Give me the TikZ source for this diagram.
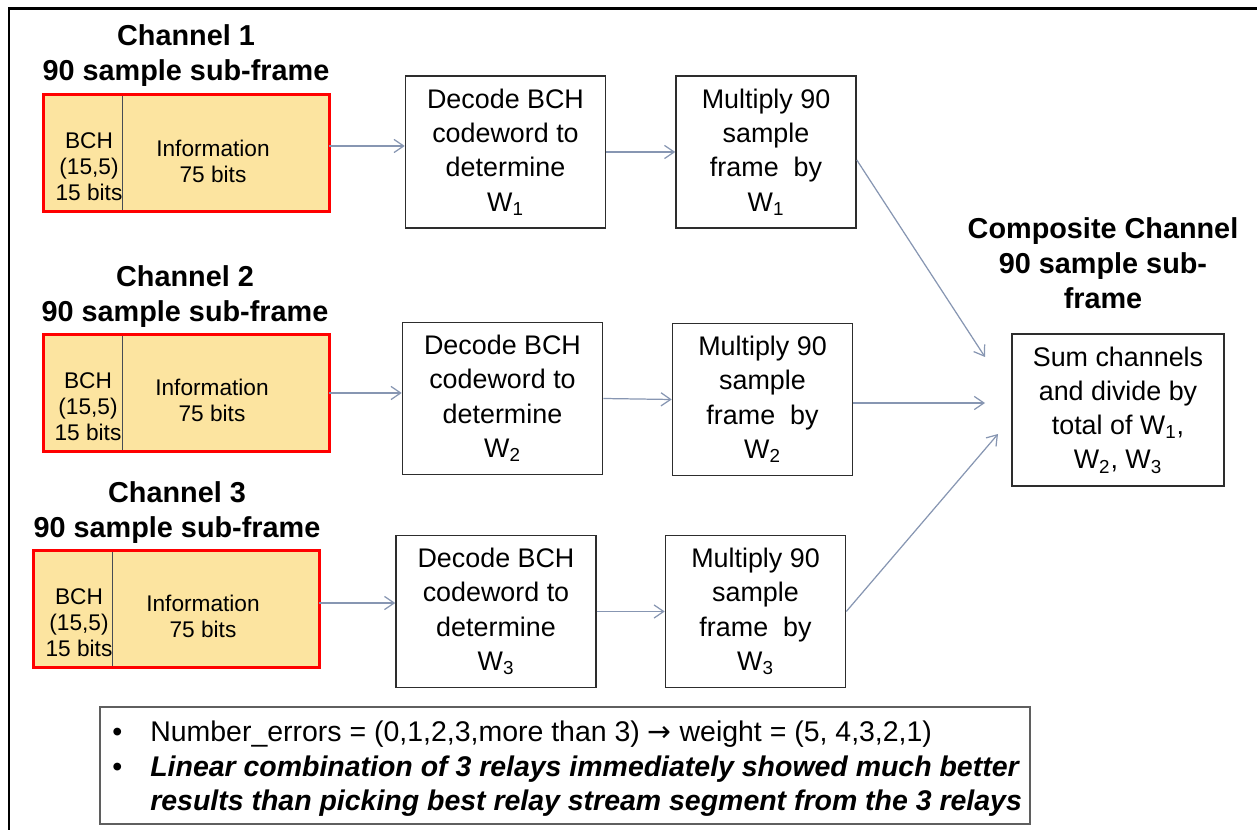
\documentclass[tikz,border=0pt]{standalone}
\usepackage{fontspec}
\setmainfont{Liberation Sans}
\newfontfamily\symfont{DejaVu Sans}
\usetikzlibrary{positioning,arrows.meta}
\definecolor{framefill}{RGB}{252,228,160}
\definecolor{boxgray}{RGB}{45,45,45}
\definecolor{divgray}{RGB}{70,75,85}
\definecolor{notegray}{RGB}{95,95,95}
\definecolor{arrowgray}{RGB}{135,150,178}
\newcommand{\procfont}{\fontsize{15.3}{19.5}\selectfont}
\newcommand{\chfont}{\fontsize{16.4}{19.9}\selectfont\bfseries}
\newcommand{\fieldfont}{\fontsize{12.9}{14.8}\selectfont}
\newcommand{\notefont}{\fontsize{16.2}{19.6}\selectfont}

\begin{document}
\begin{tikzpicture}[x=0.02cm, y=-0.02cm,
  chtitle/.style={align=center, font=\chfont, inner sep=0pt},
  field/.style={draw=divgray, line width=0.45pt, fill=framefill, minimum height=2.34cm, inner sep=0pt},
  fieldtext/.style={align=center, font=\fieldfont, inner sep=0pt},
  redframe/.style={draw=red, line width=1.7pt},
  proc/.style={draw=boxgray, line width=0.9pt, align=center, font=\procfont, minimum height=3.04cm, inner sep=0pt},
  link/.style={draw=arrowgray, line width=0.7pt, -{Straight Barb[length=5.5pt,width=7.5pt]}}
]
\useasboundingbox (0,0) rectangle (1257,830);
\draw[line width=1.7pt] (9,830) -- (9,8.5) -- (1257,8.5);

\node[chtitle] (c1) at (186,56) {Channel 1\\90 sample sub-frame};
\node[field, minimum width=1.56cm] (b1) at (83,153) {};
\node[field, minimum width=4.12cm, right=0pt of b1] (i1) {};
\draw[redframe] (b1.north west) rectangle (i1.south east);
\node[fieldtext] (tb1) at (89,167) {BCH\\(15,5)\\15 bits};
\node[fieldtext] (ti1) at (213,161) {Information\\75 bits};

\node[chtitle] (c2) at (185,297) {Channel 2\\90 sample sub-frame};
\node[field, minimum width=1.56cm] (b2) at (83,393) {};
\node[field, minimum width=4.12cm, right=0pt of b2] (i2) {};
\draw[redframe] (b2.north west) rectangle (i2.south east);
\node[fieldtext] (tb2) at (88,407) {BCH\\(15,5)\\15 bits};
\node[fieldtext] (ti2) at (212,400) {Information\\75 bits};

\node[chtitle] (c3) at (177,513) {Channel 3\\90 sample sub-frame};
\node[field, minimum width=1.56cm] (b3) at (73,609) {};
\node[field, minimum width=4.12cm, right=0pt of b3] (i3) {};
\draw[redframe] (b3.north west) rectangle (i3.south east);
\node[fieldtext] (tb3) at (79,623) {BCH\\(15,5)\\15 bits};
\node[fieldtext] (ti3) at (203,616) {Information\\75 bits};

\node[proc, minimum width=4cm] (d1) at (505.5,152) {Decode BCH\\codeword to\\determine\\W\textsubscript{1}};
\node[proc, minimum width=3.6cm] (m1) at (766,152) {Multiply 90\\sample\\frame~ by\\W\textsubscript{1}};
\node[proc, minimum width=4cm] (d2) at (502.5,398.5) {Decode BCH\\codeword to\\determine\\W\textsubscript{2}};
\node[proc, minimum width=3.6cm] (m2) at (762.5,399.5) {Multiply 90\\sample\\frame~ by\\W\textsubscript{2}};
\node[proc, minimum width=4cm] (d3) at (496,611.5) {Decode BCH\\codeword to\\determine\\W\textsubscript{3}};
\node[proc, minimum width=3.6cm] (m3) at (755.5,611.5) {Multiply 90\\sample\\frame~ by\\W\textsubscript{3}};

\node[chtitle] (ct) at (1103,263) {Composite Channel\\90 sample sub-\\frame};
\node[proc, minimum width=4.24cm] (sum) at (1118,410) {Sum channels\\and divide by\\total of W\textsubscript{1},\\W\textsubscript{2}, W\textsubscript{3}};

\node[draw=notegray, line width=1.1pt, minimum width=18.6cm, minimum height=2.34cm] (note) at (565,765.5) {};
\node[anchor=west, align=left, font=\notefont, inner sep=0pt] (notetext) at (112,769)
  {\makebox[0.76cm][l]{•}Number\_errors = (0,1,2,3,more than 3) {\symfont →} weight = (5, 4,3,2,1)\\
   \makebox[0.76cm][l]{•}\textbf{\textit{Linear combination of 3 relays immediately showed much better}}\\
   \makebox[0.76cm][l]{}\textbf{\textit{results than picking best relay stream segment from the 3 relays}}};

\coordinate (in1) at (985,357);
\coordinate (in2) at (985,403);
\coordinate (in3) at (998,434);
\coordinate (o1) at ([yshift=0.14cm]i1.east);
\coordinate (o3) at ([yshift=0.12cm]i3.east);
\draw[link] (o1) -- (o1 -| d1.west);
\draw[link] (d1.east) -- (m1.west);
\draw[link] ([yshift=-0.16cm]m1.east) -- (in1);
\draw[link] (i2.east) -- (i2.east -| d2.west);
\draw[link] (d2.east) -- (m2.west);
\draw[link] (m2.east |- in2) -- (in2);
\draw[link] (o3) -- (o3 -| d3.west);
\draw[link] (d3.east) -- (m3.west);
\draw[link] (m3.east) -- (in3);
\end{tikzpicture}
\end{document}
